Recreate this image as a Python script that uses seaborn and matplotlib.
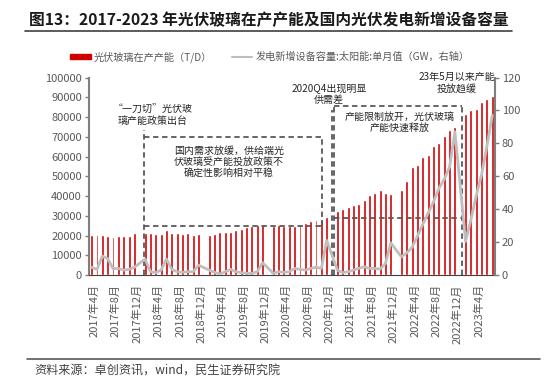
import numpy as np
import pandas as pd
import seaborn as sns
import matplotlib.pyplot as plt
from matplotlib.lines import Line2D
from matplotlib.patches import Patch

sns.set_style('white')
plt.rcParams['font.family'] = ['Noto Sans CJK SC', 'DejaVu Sans']
plt.rcParams['axes.unicode_minus'] = False

# Monthly categories 2017-04 .. 2023-07 (January has no data)
months = pd.period_range('2017-04', '2023-07', freq='M')
month_labels = [f'{p.year}年{p.month}月' for p in months]

nan = np.nan
# 光伏玻璃在产产能 (T/D)
glass = [20300, 20300, 20300, 19500, 19100, 19900, 19900, 19500, 21200,
         nan, 21500, 21200, 21000, 21000, 22700, 21500, 21200, 20900, 21100, 20500, 20900,
         nan, 20200, 20900, 21700, 21700, 22000, 23000, 23500, 24300, 24600, 25300, 25300,
         nan, 25000, 25300, 24900, 24900, 24600, 25500, 26500, 27500, 28000, 28200, 29500,
         nan, 32600, 33600, 34400, 35400, 36100, 37900, 40700, 41500, 42800, 41300, 41200,
         nan, 43200, 47600, 54700, 55900, 59600, 60900, 65200, 66900, 70600, 73300, 74900,
         nan, 81300, 83500, 84200, 87600, 89000, 90800]
# 发电新增设备容量:太阳能 (GW, right axis)
solar = [4.7, 3.4, 11.5, 10.0, 3.8, 4.0, 3.0, 3.4, 4.7,
         nan, 9.7, 2.0, 1.4, 3.0, 9.7, 3.4, 2.0, 1.6, 2.0, 2.0, 6.0,
         nan, 3.0, 1.6, 0.6, 2.0, 3.4, 2.0, 1.4, 1.0, 1.0, 2.0, 7.5,
         nan, 1.0, 2.0, 1.6, 2.0, 4.0, 3.4, 3.0, 4.0, 4.7, 4.0, 21.0,
         nan, 3.0, 1.4, 2.0, 3.0, 4.0, 5.0, 4.0, 4.0, 3.6, 7.0, 19.5,
         nan, 11.0, 13.5, 16.9, 23.7, 30.9, 37.7, 44.5, 52.6, 58.2, 65.7, 87.0,
         nan, 20.4, 33.7, 48.3, 61.2, 78.4, 97.0]

df = pd.DataFrame({'pos': np.arange(len(months)), 'glass': glass, 'solar': solar})

red = '#D00000'
grey_line = '#BFBFBF'
dash_c = '#595959'
txt_c = '#595959'

fig = plt.figure(figsize=(5.52, 3.82), dpi=100)
ax = fig.add_axes([0.1612, 0.2801, 0.7355, 0.517])

sns.barplot(data=df, x='pos', y='glass', native_scale=True, color=red,
            saturation=1, width=0.55, errorbar=None, ax=ax, zorder=2)

ax2 = ax.twinx()
sns.lineplot(data=df.dropna(subset=['solar']), x='pos', y='solar', ax=ax2,
             color=grey_line, lw=2, zorder=3)

# axes styling
ax.set_xlim(-0.5, len(months) - 0.5)
ax.set_ylim(0, 100000)
ax.set_yticks(np.arange(0, 100001, 10000))
ax2.set_ylim(0, 120)
ax2.set_yticks(np.arange(0, 121, 20))
ax.set_xlabel('')
ax.set_ylabel('')
ax2.set_ylabel('')

tick_pos = np.arange(0, len(months) + 1, 4) - 0.5
ax.set_xticks(tick_pos)
ax.set_xticklabels([])
lab_idx = np.arange(0, len(months), 4)
ax.set_xticks(lab_idx + 0.5, minor=True)
ax.set_xticklabels([month_labels[i] for i in lab_idx], minor=True, rotation=90)
ax.tick_params(axis='x', which='major', length=3, direction='out', color='#404040', width=1)
ax.tick_params(axis='x', which='minor', length=0, pad=6.5, labelsize=8, labelcolor=txt_c)
ax.tick_params(axis='y', length=3, direction='out', color='#7f7f7f', width=1,
               labelsize=8, labelcolor=txt_c, pad=2, left=True)
ax2.tick_params(axis='y', length=3, direction='out', color='#7f7f7f', width=1,
                labelsize=8, labelcolor=txt_c, pad=2)

for a in (ax, ax2):
    a.spines['top'].set_visible(False)
    a.grid(False)
ax.spines['left'].set_color('#7f7f7f')
ax.spines['left'].set_linewidth(1.5)
ax2.spines['right'].set_color('#7f7f7f')
ax2.spines['right'].set_linewidth(1.5)
ax2.spines['left'].set_visible(False)
ax.spines['bottom'].set_color('#404040')
ax2.spines['bottom'].set_visible(False)
ax.spines['right'].set_visible(False)

# dashed annotation frames (left-axis units)
dkw = dict(color=dash_c, lw=1.3, linestyle=(0, (3, 2)), zorder=4)
ax.vlines(9.8, 0, 73500, **dkw)
ax.hlines(69800, 9.8, 43.1, **dkw)
ax.vlines(43.1, 24700, 69800, **dkw)
ax.hlines(24700, 9.8, 43.1, **dkw)

ax.vlines(44.9, 0, 83600, **dkw)
ax.vlines(45.3, 0, 85800, **dkw)
ax.hlines(85800, 45.3, 69.3, **dkw)
ax.hlines(28700, 45.3, 69.3, **dkw)
ax.vlines(69.3, 0, 85800, **dkw)

akw = dict(fontsize=7.2, color='#262626', ha='center', va='center', linespacing=1.15, zorder=5)
ax.text(11.5, 80800, '“一刀切”光伏玻\n璃产能政策出台', **akw)
ax.text(25.7, 57400, '国内需求放缓，供给端光\n伏玻璃受产能投放政策不\n确定性影响相对平稳', **akw)
ax.text(44.4, 91700, '2020Q4出现明显\n供需差', **akw)
ax.text(57.7, 77100, '产能限制放开，光伏玻璃\n产能快速释放', **akw)
ax.text(68.3, 97400, '23年5月以来产能\n投放趋缓', clip_on=False, **akw)

# legend
handles = [Patch(color=red), Line2D([], [], color=grey_line, lw=1.5)]
fig.legend(handles, ['光伏玻璃在产产能（T/D）', '发电新增设备容量:太阳能:单月值（GW，右轴）'],
           loc='center', bbox_to_anchor=(0.489, 0.851), ncol=2, frameon=False,
           fontsize=7.3, handlelength=2.0, handleheight=0.5, columnspacing=2.0,
           handletextpad=0.3, labelcolor=txt_c)

# title and frame lines
fig.text(0.487, 0.948, '图13：2017-2023 年光伏玻璃在产产能及国内光伏发电新增设备容量',
         ha='center', va='center', fontsize=11.3, fontweight='bold', color='#1a1a1a')
fig.add_artist(Line2D([0.045, 0.928], [0.919, 0.919], color='#404040', lw=1.2))
fig.add_artist(Line2D([0.049, 0.978], [0.060, 0.060], color='#595959', lw=1.2))
fig.text(0.063, 0.0275, '资料来源：卓创资讯，wind，民生证券研究院',
         ha='left', va='center', fontsize=8.7, color='#404040')

fig.savefig('out.png', dpi=100)
